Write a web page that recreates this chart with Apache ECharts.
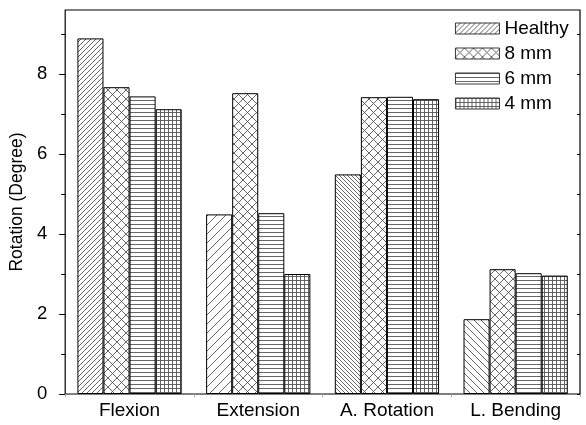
<!DOCTYPE html>
<html>
<head>
<meta charset="utf-8">
<script src="https://cdn.jsdelivr.net/npm/echarts@6/dist/echarts.min.js"></script>
<style>
  html, body { margin: 0; padding: 0; background: #fff; }
  #chart { width: 586px; height: 425px; }
</style>
</head>
<body>
<div id="chart"></div>
<script>
// Motion segments and the implant groups compared
const categories = ['Flexion', 'Extension', 'A. Rotation', 'L. Bending'];
const seriesNames = ['Healthy', '8 mm', '6 mm', '4 mm'];

// Rotation in degrees for each group
const healthy = [8.89, 4.49, 5.49, 1.87];
const mm8 = [7.67, 7.52, 7.42, 3.12];
const mm6 = [7.44, 4.52, 7.43, 3.02];
const mm4 = [7.12, 3.00, 7.37, 2.96];

// Y axis ticks
const yMajorTicks = [0, 2, 4, 6, 8];
const yMinorTicks = [1, 3, 5, 7, 9];
const yAllTicks = [0, 1, 2, 3, 4, 5, 6, 7, 8, 9];

// ---- hatch pattern tiles ----
const HATCH = '#555';
function tile(w, h, draw) {
  const c = document.createElement('canvas');
  c.width = w; c.height = h;
  const ctx = c.getContext('2d');
  ctx.fillStyle = '#fff';
  ctx.fillRect(0, 0, w, h);
  ctx.strokeStyle = HATCH;
  ctx.lineWidth = 0.9;
  ctx.beginPath();
  draw(ctx, w, h);
  ctx.stroke();
  return { image: c, repeat: 'repeat' };
}
function slash(p) {
  return tile(p, p, ctx => {
    for (const o of [-p, 0, p]) { ctx.moveTo(o, p); ctx.lineTo(o + p, 0); }
  });
}
function backslash(p) {
  return tile(p, p, ctx => {
    for (const o of [-p, 0, p]) { ctx.moveTo(o, 0); ctx.lineTo(o + p, p); }
  });
}
function cross(p) {
  return tile(p, p, ctx => {
    for (const o of [-p, 0, p]) {
      ctx.moveTo(o, p); ctx.lineTo(o + p, 0);
      ctx.moveTo(o, 0); ctx.lineTo(o + p, p);
    }
  });
}
function horizontal(p) {
  return tile(8, p, (ctx, w) => { ctx.moveTo(0, 0.5); ctx.lineTo(w, 0.5); });
}
function grid(px, py) {
  return tile(px, py, (ctx, w, h) => {
    ctx.moveTo(0.5, 0); ctx.lineTo(0.5, h);
    ctx.moveTo(0, 0.5); ctx.lineTo(w, 0.5);
  });
}

// The healthy bars use a different hatch in each segment
const healthyFills = [slash(5), slash(9), backslash(4), backslash(7)];
const fills = [healthyFills[0], cross(9), horizontal(4), grid(4, 4)];
const seriesData = [healthy, mm8, mm6, mm4];

const FONT = '"Liberation Sans", Arial, sans-serif';

const series = seriesNames.map((name, i) => ({
  name: name,
  type: 'bar',
  yAxisIndex: 0,
  barGap: '0%',
  barCategoryGap: '19%',
  itemStyle: { color: fills[i], borderColor: '#000', borderWidth: 1 },
  emphasis: { disabled: true },
  data: seriesData[i].map((v, j) => i === 0
    ? { value: v, itemStyle: { color: healthyFills[j] } }
    : v)
}));

const chart = echarts.init(document.getElementById('chart'), null, { renderer: 'canvas' });
chart.setOption({
  animation: false,
  backgroundColor: '#fff',
  textStyle: { fontFamily: FONT },
  grid: {
    left: 65, right: 6, top: 10, bottom: 31,
    show: true, borderColor: '#000', borderWidth: 1.2, backgroundColor: 'transparent'
  },
  legend: {
    orient: 'vertical',
    left: 455, top: 19,
    padding: 0,
    itemWidth: 44, itemHeight: 11, itemGap: 6,
    icon: 'rect',
    selectedMode: false,
    itemStyle: { borderColor: '#222', borderWidth: 0.9 },
    textStyle: { fontFamily: FONT, fontSize: 19, color: '#000' },
    data: seriesNames
  },
  xAxis: {
    type: 'category',
    data: categories,
    axisLine: { show: false },
    axisTick: { show: true, length: 3, lineStyle: { color: '#aaa' } },
    axisLabel: { fontFamily: FONT, fontSize: 19, color: '#000', margin: 7 },
    splitLine: { show: false }
  },
  yAxis: [
    {
      type: 'value', position: 'left', min: 0, max: 9.6,
      name: 'Rotation (Degree)', nameLocation: 'middle', nameGap: 32,
      nameTextStyle: { fontFamily: FONT, fontSize: 17.5, color: '#000' },
      axisLine: { show: false },
      axisTick: { show: true, length: 6, customValues: yMajorTicks, lineStyle: { color: '#000' } },
      axisLabel: { fontFamily: FONT, fontSize: 18.5, color: '#000', margin: 18, customValues: yMajorTicks },
      splitLine: { show: false }
    },
    {
      type: 'value', position: 'left', min: 0, max: 9.6,
      axisLine: { show: false },
      axisTick: { show: true, length: 4, customValues: yMinorTicks, lineStyle: { color: '#000' } },
      axisLabel: { show: false },
      splitLine: { show: false }
    },
    {
      type: 'value', position: 'right', min: 0, max: 9.6,
      axisLine: { show: false },
      axisTick: { show: true, inside: true, length: 3, customValues: yAllTicks, lineStyle: { color: '#000' } },
      axisLabel: { show: false },
      splitLine: { show: false }
    }
  ],
  series: series
});
</script>
</body>
</html>
